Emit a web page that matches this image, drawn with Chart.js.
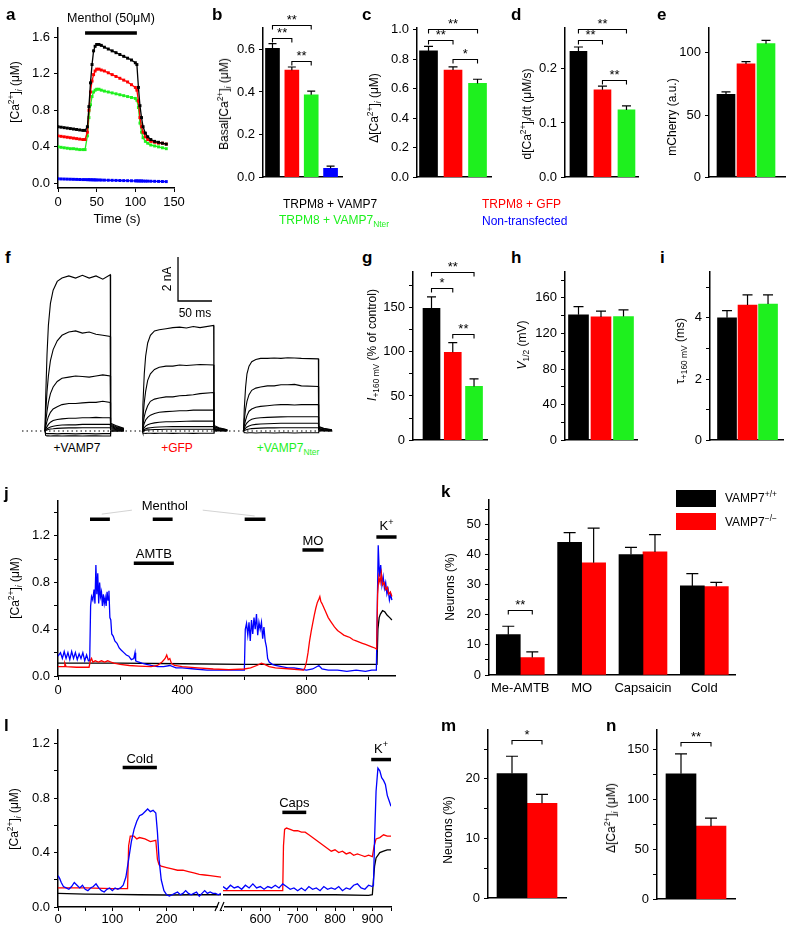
<!DOCTYPE html>
<html><head><meta charset="utf-8">
<script src="https://cdn.jsdelivr.net/npm/chart.js@4.4.1/dist/chart.umd.min.js"></script>
<style>
body{margin:0;background:#fff;}
#root{position:relative;width:788px;height:930px;overflow:hidden;font-family:'Liberation Sans',Arial,sans-serif;color:#000;background:#fff;}
canvas{position:absolute;}
.t{position:absolute;white-space:nowrap;line-height:1;}
sup,sub{font-size:70%;line-height:0;}
.sw{position:absolute;}
</style></head><body><div id="root"></div>
<script>
// ================= DATA =================
const groupColors = ['#000000', '#ff0000', '#1ef01e', '#0000ff'];
const groupNames = ['TRPM8 + VAMP7', 'TRPM8 + GFP', 'TRPM8 + VAMP7Nter', 'Non-transfected'];

// a: [Ca2+]i time course (s, µM)
const aTime  = [0,4,8,12,16,20,24,28,32,35,38,40,42,44,46,48,50,53,56,60,65,70,75,80,85,90,95,100,102,104,106,108,110,113,116,120,125,130,135,140];
const aVamp7 = [0.62,0.615,0.61,0.605,0.6,0.595,0.59,0.585,0.58,0.58,0.62,0.84,1.1,1.3,1.45,1.5,1.52,1.52,1.51,1.49,1.47,1.45,1.43,1.41,1.39,1.37,1.35,1.32,1.3,1.05,0.85,0.72,0.62,0.55,0.51,0.48,0.46,0.45,0.44,0.43];
const aGfp   = [0.52,0.515,0.51,0.505,0.5,0.495,0.49,0.485,0.48,0.48,0.56,0.8,1.0,1.12,1.19,1.23,1.25,1.25,1.24,1.23,1.21,1.19,1.17,1.15,1.13,1.11,1.08,1.05,1.02,0.9,0.72,0.62,0.56,0.51,0.48,0.46,0.45,0.44,0.44,0.43];
const aNter  = [0.4,0.395,0.39,0.385,0.38,0.38,0.375,0.37,0.37,0.37,0.52,0.72,0.86,0.95,1.0,1.02,1.03,1.03,1.02,1.01,1.0,0.99,0.98,0.97,0.96,0.95,0.94,0.93,0.91,0.83,0.66,0.56,0.5,0.46,0.44,0.42,0.41,0.4,0.39,0.38];
const aNonTr = [0.05,0.049,0.048,0.047,0.046,0.045,0.044,0.043,0.042,0.042,0.041,0.041,0.04,0.04,0.039,0.039,0.038,0.038,0.037,0.036,0.035,0.034,0.033,0.032,0.031,0.03,0.029,0.028,0.028,0.027,0.027,0.027,0.026,0.025,0.025,0.024,0.023,0.022,0.021,0.02];
const aMenthol = [35, 102];

// b-e
const bBasal = [0.605, 0.502, 0.387, 0.042];  const bErr = [0.022, 0.015, 0.017, 0.01];
const cDelta = [0.855, 0.725, 0.635];         const cErr = [0.03, 0.022, 0.028];
const dRate  = [0.232, 0.161, 0.124];         const dErr = [0.008, 0.007, 0.0075];
const eMcherry = [66.6, 91.1, 107.4];         const eErr = [2.0, 1.8, 2.6];

// f: whole-cell current traces (ms, nA)
const fOnset    = [0, 143, 292];
const fPulseEnd = [96, 105, 110];
const fRelTime  = [0,1,3,5,8,12,18,25,35,45,55,65,75,85];
const fTailTime = [0.5, 8, 20];
const fVamp7 = [
  [0,1.5,3.5,4.8,5.8,6.4,6.8,6.95,7.05,6.95,7.08,6.95,7.05,6.9,7.1],
  [0,0.8,1.8,2.5,3.2,3.7,4.1,4.35,4.5,4.55,4.45,4.5,4.4,4.35,4.3],
  [0,0.4,0.9,1.3,1.7,2.0,2.25,2.4,2.45,2.5,2.48,2.45,2.5,2.55,2.5],
  [0,0.2,0.45,0.65,0.85,1.0,1.1,1.2,1.25,1.25,1.28,1.3,1.3,1.35,1.3],
  [0,0.1,0.2,0.3,0.4,0.48,0.52,0.55,0.58,0.58,0.6,0.6,0.62,0.6,0.6],
  [0,0.05,0.1,0.14,0.18,0.22,0.25,0.27,0.28,0.28,0.3,0.3,0.3,0.3,0.3],
  [0,0.02,0.05,0.07,0.09,0.1,0.12,0.13,0.14,0.14,0.15,0.15,0.15,0.15,0.15],
  [0,-0.1,-0.12,-0.12,-0.12,-0.12,-0.13,-0.12,-0.12,-0.13,-0.12,-0.12,-0.13,-0.12,-0.12],
  [0,-0.2,-0.22,-0.22,-0.23,-0.22,-0.22,-0.23,-0.22,-0.22,-0.23,-0.22,-0.22,-0.23,-0.22]];
const fVamp7Tail = [[0.35,0.25,0.12],[0.3,0.2,0.1],[0.25,0.17,0.08],[0.2,0.13,0.06],[0.15,0.1,0.05],[0.1,0.07,0.03],[0.06,0.04,0.02],[0,0,0],[0,0,0]];
const fGfp = [
  [0,1.2,2.6,3.4,4.0,4.35,4.55,4.6,4.65,4.7,4.72,4.68,4.75,4.7,4.8],
  [0,0.6,1.3,1.8,2.3,2.6,2.8,2.9,2.95,2.95,3.0,2.98,3.0,3.02,3.0],
  [0,0.3,0.65,0.9,1.15,1.35,1.45,1.5,1.55,1.55,1.6,1.62,1.65,1.7,1.75],
  [0,0.15,0.35,0.5,0.62,0.72,0.8,0.85,0.88,0.9,0.92,0.92,0.95,0.95,0.95],
  [0,0.07,0.15,0.22,0.28,0.33,0.37,0.4,0.42,0.42,0.43,0.44,0.45,0.45,0.45],
  [0,0.03,0.07,0.1,0.13,0.15,0.17,0.18,0.19,0.2,0.2,0.2,0.2,0.2,0.2],
  [0,0.01,0.03,0.04,0.05,0.06,0.07,0.07,0.08,0.08,0.08,0.08,0.08,0.08,0.08],
  [0,-0.1,-0.1,-0.11,-0.1,-0.1,-0.11,-0.1,-0.1,-0.11,-0.1,-0.1,-0.11,-0.1,-0.1]];
const fGfpTail = [[0.25,0.15,0.06],[0.2,0.12,0.05],[0.17,0.1,0.04],[0.12,0.07,0.03],[0.08,0.05,0.02],[0.05,0.03,0.01],[0.03,0.02,0.01],[0,0,0]];
const fNter = [
  [0,1.0,2.0,2.6,2.95,3.15,3.25,3.3,3.3,3.32,3.3,3.33,3.32,3.3,3.28],
  [0,0.5,1.0,1.35,1.65,1.85,1.95,2.0,2.05,2.05,2.1,2.1,2.12,2.05,2.02],
  [0,0.25,0.5,0.7,0.9,1.0,1.08,1.12,1.15,1.18,1.2,1.2,1.18,1.2,1.2],
  [0,0.12,0.27,0.37,0.46,0.53,0.58,0.6,0.62,0.63,0.64,0.65,0.65,0.65,0.65],
  [0,0.06,0.13,0.18,0.23,0.27,0.3,0.32,0.33,0.34,0.35,0.35,0.35,0.35,0.35],
  [0,0.02,0.05,0.07,0.09,0.11,0.12,0.13,0.14,0.14,0.15,0.15,0.15,0.15,0.15],
  [0,-0.08,-0.08,-0.09,-0.08,-0.08,-0.09,-0.08,-0.08,-0.09,-0.08,-0.08,-0.09,-0.08,-0.08]];
const fNterTail = [[0.2,0.12,0.05],[0.17,0.1,0.04],[0.12,0.07,0.03],[0.09,0.05,0.02],[0.06,0.03,0.01],[0.03,0.02,0.01],[0,0,0]];

// g-i
const gCurrent = [149, 99.3, 60.8]; const gErr = [13, 11, 8.5];
const hV12     = [141, 138.5, 139]; const hErr = [9, 6.5, 7.4];
const iTau     = [4.0, 4.42, 4.45]; const iErr = [0.24, 0.33, 0.3];

// j: DRG neuron traces [time s, [Ca2+]i µM]
const jBlue = [[0,0.17],[8,0.2],[14,0.15],[20,0.21],[26,0.15],[32,0.2],[38,0.14],[44,0.21],[50,0.15],[56,0.2],[62,0.14],[68,0.19],[74,0.15],[80,0.2],[86,0.13],[92,0.18],[98,0.13],[102,0.13],[105,0.6],[108,0.68],[112,0.65],[116,0.74],[119,0.62],[122,0.95],[125,0.7],[128,0.88],[131,0.62],[134,0.8],[137,0.68],[140,0.72],[143,0.6],[146,0.7],[149,0.62],[152,0.67],[155,0.6],[158,0.72],[161,0.65],[164,0.73],[167,0.5],[170,0.48],[173,0.36],[178,0.34],[183,0.3],[190,0.28],[197,0.24],[204,0.22],[212,0.2],[220,0.18],[228,0.17],[236,0.14],[244,0.15],[248,0.2],[250,0.13],[258,0.12],[270,0.11],[285,0.1],[300,0.09],[320,0.08],[340,0.08],[360,0.09],[380,0.07],[400,0.07],[440,0.06],[480,0.05],[520,0.05],[560,0.05],[600,0.05],[603,0.4],[607,0.45],[611,0.35],[615,0.46],[619,0.3],[623,0.48],[627,0.36],[631,0.5],[635,0.4],[639,0.53],[643,0.35],[647,0.46],[651,0.4],[655,0.46],[659,0.32],[663,0.42],[667,0.3],[671,0.25],[675,0.15],[680,0.12],[690,0.1],[700,0.09],[720,0.08],[740,0.07],[760,0.07],[780,0.06],[800,0.05],[820,0.06],[840,0.09],[850,0.06],[870,0.05],[900,0.05],[930,0.04],[960,0.05],[990,0.04],[1010,0.05],[1025,0.05],[1028,0.6],[1031,1.12],[1035,0.85],[1039,0.95],[1043,0.78],[1047,0.85],[1051,0.75],[1055,0.8],[1059,0.7],[1063,0.74],[1067,0.65],[1071,0.7],[1075,0.65]];
const jRed = [[0,0.08],[20,0.08],[22,0.11],[26,0.08],[60,0.075],[100,0.075],[104,0.13],[108,0.15],[112,0.12],[120,0.13],[130,0.12],[140,0.13],[150,0.12],[160,0.13],[170,0.12],[180,0.11],[200,0.1],[230,0.09],[260,0.085],[300,0.08],[320,0.09],[335,0.12],[345,0.15],[350,0.18],[355,0.14],[360,0.15],[365,0.11],[375,0.09],[400,0.08],[450,0.07],[500,0.06],[550,0.055],[600,0.06],[620,0.07],[640,0.09],[655,0.11],[665,0.1],[680,0.08],[700,0.07],[750,0.06],[790,0.05],[795,0.07],[800,0.12],[805,0.2],[810,0.3],[815,0.38],[820,0.45],[825,0.52],[830,0.58],[835,0.63],[840,0.66],[843,0.68],[846,0.64],[850,0.62],[860,0.56],[870,0.5],[880,0.46],[890,0.42],[900,0.39],[910,0.37],[920,0.35],[930,0.34],[940,0.33],[950,0.31],[960,0.3],[970,0.29],[980,0.28],[990,0.27],[1000,0.26],[1010,0.25],[1020,0.24],[1026,0.23],[1029,0.7],[1033,0.85],[1037,0.8],[1041,0.88],[1045,0.78],[1050,0.8],[1055,0.74],[1060,0.76],[1065,0.7],[1070,0.72],[1075,0.68]];
const jBlack = [[0,0.11],[200,0.11],[400,0.105],[600,0.1],[800,0.1],[1000,0.1],[1027,0.1],[1030,0.4],[1034,0.5],[1038,0.53],[1045,0.56],[1052,0.55],[1060,0.52],[1068,0.5],[1075,0.48]];

// k
const kCategories = ['Me-AMTB', 'MO', 'Capsaicin', 'Cold'];
const kWT = [13.4, 44.1, 40.0, 29.6]; const kWTErr = [2.8, 3.2, 2.4, 4.1];
const kKO = [5.8, 37.3, 40.9, 29.4];  const kKOErr = [1.9, 11.5, 5.7, 1.4];

// l: two time windows of one recording [time s, µM]
const lBlueA = [[0,0.23],[3,0.21],[6,0.18],[10,0.15],[15,0.14],[20,0.13],[25,0.15],[30,0.18],[35,0.16],[40,0.14],[45,0.16],[50,0.13],[55,0.12],[60,0.14],[65,0.15],[70,0.17],[75,0.14],[80,0.12],[85,0.11],[90,0.13],[95,0.14],[100,0.12],[105,0.14],[110,0.13],[115,0.14],[120,0.16],[125,0.22],[130,0.35],[135,0.48],[140,0.57],[145,0.63],[150,0.67],[155,0.68],[160,0.7],[165,0.72],[170,0.7],[175,0.71],[180,0.69],[183,0.55],[186,0.35],[190,0.2],[195,0.12],[200,0.09],[205,0.08],[210,0.09],[215,0.1],[220,0.11],[225,0.09],[230,0.1],[235,0.12],[240,0.1],[245,0.09],[250,0.1],[255,0.11],[260,0.08],[265,0.1],[270,0.12],[275,0.1],[280,0.11],[285,0.1],[290,0.1],[295,0.09],[300,0.1]];
const lRedA = [[0,0.14],[50,0.14],[100,0.135],[128,0.135],[130,0.45],[133,0.52],[140,0.52],[145,0.5],[150,0.51],[160,0.5],[170,0.48],[180,0.49],[183,0.35],[186,0.31],[190,0.3],[200,0.29],[210,0.28],[220,0.27],[230,0.27],[240,0.26],[250,0.25],[260,0.24],[270,0.235],[280,0.23],[290,0.225],[300,0.22]];
const lBlackA = [[0,0.1],[50,0.095],[100,0.092],[150,0.09],[200,0.088],[250,0.09],[300,0.09]];
const lBlueB = [[500,0.15],[510,0.13],[520,0.16],[530,0.14],[540,0.15],[550,0.13],[560,0.16],[570,0.14],[580,0.17],[590,0.14],[600,0.15],[610,0.13],[620,0.15],[630,0.14],[640,0.16],[650,0.14],[660,0.17],[670,0.15],[680,0.13],[690,0.14],[700,0.12],[710,0.14],[720,0.12],[730,0.15],[740,0.13],[750,0.14],[760,0.12],[770,0.15],[780,0.13],[790,0.14],[800,0.13],[810,0.15],[820,0.12],[830,0.14],[840,0.13],[850,0.16],[860,0.17],[870,0.14],[880,0.13],[890,0.16],[900,0.15],[903,0.16],[906,0.5],[910,0.85],[915,1.02],[920,1.0],[925,0.95],[930,0.93],[935,0.9],[940,0.82],[945,0.78],[950,0.74]];
const lRedB = [[500,0.12],[550,0.12],[600,0.12],[650,0.12],[660,0.12],[662,0.45],[665,0.57],[670,0.58],[680,0.57],[690,0.56],[700,0.56],[710,0.55],[720,0.55],[730,0.53],[740,0.51],[750,0.49],[760,0.47],[770,0.45],[780,0.43],[790,0.41],[800,0.42],[810,0.4],[820,0.41],[830,0.39],[840,0.4],[850,0.38],[860,0.39],[870,0.38],[880,0.37],[890,0.38],[900,0.37],[905,0.45],[910,0.5],[920,0.51],[930,0.53],[940,0.52],[950,0.52]];
const lBlackB = [[500,0.09],[600,0.09],[700,0.09],[800,0.09],[890,0.085],[900,0.09],[903,0.2],[906,0.3],[910,0.36],[920,0.4],[930,0.41],[940,0.42],[950,0.42]];

// m, n
const mWT = [20.9]; const mWTErr = [2.9]; const mKO = [15.9]; const mKOErr = [1.5];
const nWT = [126];  const nWTErr = [20];  const nKO = [73.4]; const nKOErr = [8];

// ================= RENDERING =================
const FONT = "'Liberation Sans', Arial, sans-serif";
Chart.defaults.font.family = FONT;
Chart.defaults.font.size = 13;
Chart.defaults.color = '#000';
const root = document.getElementById('root');

function drawRich(ctx, parts, cx, by, size) {
  const fs = m => (m ? size * 0.7 : size);
  let w = 0;
  for (const [s, m] of parts) { ctx.font = fs(m) + 'px ' + FONT; w += ctx.measureText(s).width; }
  let x = cx - w / 2;
  ctx.textAlign = 'left'; ctx.textBaseline = 'alphabetic';
  for (const [s, m] of parts) {
    ctx.font = fs(m) + 'px ' + FONT;
    const dy = m === 1 ? -size * 0.42 : (m === 2 ? size * 0.22 : 0);
    ctx.fillText(s, x, by + dy);
    x += ctx.measureText(s).width;
  }
}

const deco = {
  id: 'deco',
  beforeDatasetsDraw(chart, a, o) {
    if (!o.zero) return;
    const ctx = chart.ctx, ca = chart.chartArea, y = chart.scales.y.getPixelForValue(0);
    ctx.save(); ctx.setLineDash([1.5, 3]); ctx.lineWidth = 1; ctx.strokeStyle = '#000';
    ctx.beginPath(); ctx.moveTo(ca.left, y); ctx.lineTo(ca.right, y); ctx.stroke(); ctx.restore();
  },
  afterDatasetsDraw(chart, a, o) {
    const ctx = chart.ctx, xs = chart.scales.x, ys = chart.scales.y;
    const X = v => xs.getPixelForValue(v), Y = v => ys.getPixelForValue(v);
    ctx.save(); ctx.strokeStyle = '#000'; ctx.fillStyle = '#000';
    (o.err || []).forEach((errs, d) => {
      const meta = chart.getDatasetMeta(d);
      meta.data.forEach((el, i) => {
        const yTop = Y(chart.data.datasets[d].data[i].y + errs[i]);
        ctx.lineWidth = 1.2; ctx.beginPath();
        ctx.moveTo(el.x, el.y); ctx.lineTo(el.x, yTop);
        ctx.moveTo(el.x - o.cap, yTop); ctx.lineTo(el.x + o.cap, yTop); ctx.stroke();
      });
    });
    (o.brackets || []).forEach(b => {
      const x1 = chart.getDatasetMeta(b.from[0]).data[b.from[1]].x;
      const x2 = chart.getDatasetMeta(b.to[0]).data[b.to[1]].x;
      const y = Math.round(Y(b.level)) + 0.5;
      ctx.lineWidth = 1.1; ctx.beginPath();
      ctx.moveTo(x1, y + 4); ctx.lineTo(x1, y); ctx.lineTo(x2, y); ctx.lineTo(x2, y + 4); ctx.stroke();
      ctx.font = '13px ' + FONT; ctx.textAlign = 'center'; ctx.textBaseline = 'alphabetic';
      ctx.fillText(b.label, (x1 + x2) / 2, y - 2);
    });
    (o.links || []).forEach(l => {
      ctx.strokeStyle = '#c8c8c8'; ctx.lineWidth = 0.8; ctx.beginPath();
      ctx.moveTo(X(l[0]), Y(l[1])); ctx.lineTo(X(l[2]), Y(l[3])); ctx.stroke();
      ctx.strokeStyle = '#000';
    });
    (o.stims || []).forEach(s => {
      const y = Y(s.level);
      ctx.lineWidth = 3.5; ctx.beginPath(); ctx.moveTo(X(s.t0), y); ctx.lineTo(X(s.t1), y); ctx.stroke();
      if (s.label) drawRich(ctx, s.label, (X(s.t0) + X(s.t1)) / 2, y - (s.gap || 5), s.size || 13);
    });
    (o.texts || []).forEach(t => drawRich(ctx, t.parts, X(t.t), Y(t.v), t.size || 13));
    if (o.scaleBar) {
      const s = o.scaleBar, x0 = X(s.t), y0 = Y(s.v);
      ctx.lineWidth = 1.3; ctx.beginPath();
      ctx.moveTo(x0, Y(s.v + s.dv)); ctx.lineTo(x0, y0); ctx.lineTo(X(s.t + s.dt), y0); ctx.stroke();
    }
    if (o.breakMark) {
      const x = chart.chartArea.left, y = chart.chartArea.bottom;
      ctx.fillStyle = '#fff'; ctx.fillRect(x - 5, y - 3, 6, 6);
      ctx.lineWidth = 1.2; ctx.beginPath();
      ctx.moveTo(x - 8, y + 4); ctx.lineTo(x - 4, y - 5);
      ctx.moveTo(x - 3, y + 4); ctx.lineTo(x + 1, y - 5); ctx.stroke();
    }
    ctx.restore();
  }
};

const isMult = (v, m) => Math.abs(v / m - Math.round(v / m)) < 1e-6;
function yAxis(min, max, step, major, dec) {
  return {
    type: 'linear', min, max, offset: false,
    border: {display: true, color: '#000', width: 1.5},
    grid: {display: true, drawOnChartArea: false, drawTicks: true, tickLength: 4, color: '#000', offset: false},
    ticks: {stepSize: step, autoSkip: false, includeBounds: false, padding: 4, color: '#000', font: {size: 13},
      callback: v => isMult(v, major) ? (dec ? v.toFixed(dec) : String(Math.round(v))) : ''}
  };
}
function xLin(min, max, step, major, labelFn, pad) {
  return {
    type: 'linear', min, max, offset: false,
    border: {display: true, color: '#000', width: 1.5},
    grid: {display: true, drawOnChartArea: false, drawTicks: true, tickLength: 4, color: '#000', offset: false},
    ticks: {stepSize: step, autoSkip: false, includeBounds: false, padding: pad == null ? 3 : pad, maxRotation: 0, color: '#000', font: {size: 13},
      callback: v => (isMult(v, major) && (!labelFn || labelFn(v))) ? String(Math.round(v)) : ''}
  };
}
function xBar(min, max) {
  return {type: 'linear', min, max, offset: false,
    border: {display: true, color: '#000', width: 1.5},
    grid: {display: false, drawTicks: false}, ticks: {display: false}};
}

function panel(box, m, cfg) {
  const [L, T, R, B] = box;
  const ml = m[0], mt = m[1], mr = m[2], mb = m[3];
  const c = document.createElement('canvas');
  const W = Math.round(R - L + ml + mr), H = Math.round(B - T + mt + mb);
  c.width = W; c.height = H;
  c.style.cssText = `left:${L - ml}px;top:${T - mt}px;width:${W}px;height:${H}px`;
  root.appendChild(c);
  const sc = cfg.options.scales;
  const yOn = sc.y.display !== false, xOn = sc.x.display !== false;
  cfg.options.layout = {padding: {left: yOn ? 0 : ml, top: mt, right: mr, bottom: xOn ? 0 : mb}};
  if (yOn) sc.y.afterFit = s => { s.width = ml; };
  if (xOn) sc.x.afterFit = s => { s.height = mb; };
  cfg.options.animation = false; cfg.options.responsive = false; cfg.options.events = [];
  cfg.options.devicePixelRatio = 1;
  cfg.options.plugins = Object.assign({legend: {display: false}, tooltip: {enabled: false}}, cfg.options.plugins || {});
  cfg.plugins = [deco];
  return new Chart(c, cfg);
}

const pts = (xs, ys) => xs.map((x, i) => ({x, y: ys[i]}));
const pairs = arr => arr.map(p => ({x: p[0], y: p[1]}));
const bars = (vals, colors, thick) => ({data: vals.map((v, i) => ({x: i + 1, y: v})), backgroundColor: colors, barThickness: thick, borderWidth: 0});
const line = (data, color, w) => ({data, borderColor: color, borderWidth: w || 1.3, pointRadius: 0, fill: false, tension: 0});

// ---- a ----
panel([58, 28, 174, 188], [50, 26, 14, 34], {
  type: 'line',
  data: {datasets: [aVamp7, aGfp, aNter, aNonTr].map((s, k) => ({
    data: pts(aTime, s), borderColor: groupColors[k], borderWidth: 1.3, pointStyle: 'rect', pointRadius: 2.1,
    pointBackgroundColor: groupColors[k], pointBorderWidth: 0, tension: 0}))},
  options: {scales: {x: xLin(0, 150, 50, 50), y: yAxis(-0.05, 1.7, 0.4, 0.4, 1)},
    plugins: {deco: {stims: [{t0: aMenthol[0], t1: aMenthol[1], level: 1.644, gap: 11, size: 12.5,
      label: [['Menthol (50μM)', 0]]}]}}}
});

// ---- b-e ----
const topM = [40, 26, 4, 4];
panel([263, 28, 342, 185], topM, {type: 'bar', data: {datasets: [bars(bBasal, groupColors.slice(0, 4), 14)]},
  options: {scales: {x: xBar(0.51, 4.59), y: yAxis(0, 0.7, 0.2, 0.2, 1)},
    plugins: {deco: {err: [bErr], cap: 4, brackets: [
      {from: [0, 0], to: [0, 2], level: 0.713, label: '**'},
      {from: [0, 0], to: [0, 1], level: 0.651, label: '**'},
      {from: [0, 1], to: [0, 2], level: 0.544, label: '**'}]}}}});
panel([417, 28, 491, 185], topM, {type: 'bar', data: {datasets: [bars(cDelta, groupColors.slice(0, 3), 18)]},
  options: {scales: {x: xBar(0.53, 3.55), y: yAxis(0, 1.01, 0.2, 0.2, 1)},
    plugins: {deco: {err: [cErr], cap: 4.5, brackets: [
      {from: [0, 0], to: [0, 2], level: 1.004, label: '**'},
      {from: [0, 0], to: [0, 1], level: 0.927, label: '**'},
      {from: [0, 1], to: [0, 2], level: 0.798, label: '*'}]}}}});
panel([565, 28, 638, 185], topM, {type: 'bar', data: {datasets: [bars(dRate, groupColors.slice(0, 3), 17)]},
  options: {scales: {x: xBar(0.44, 3.48), y: yAxis(0, 0.275, 0.1, 0.1, 1)},
    plugins: {deco: {err: [dErr], cap: 4.5, brackets: [
      {from: [0, 0], to: [0, 2], level: 0.273, label: '**'},
      {from: [0, 0], to: [0, 1], level: 0.252, label: '**'},
      {from: [0, 1], to: [0, 2], level: 0.179, label: '**'}]}}}});
panel([709, 28, 785, 185], [40, 26, 3, 4], {type: 'bar', data: {datasets: [bars(eMcherry, groupColors.slice(0, 3), 18)]},
  options: {scales: {x: xBar(0.15, 3.95), y: yAxis(0, 120, 50, 50, 0)},
    plugins: {deco: {err: [eErr], cap: 4.5}}}});

// ---- f ----
const fDatasets = [];
[[fVamp7, fVamp7Tail], [fGfp, fGfpTail], [fNter, fNterTail]].forEach(([traces, tails], g) => {
  const on = fOnset[g], end = fPulseEnd[g];
  traces.forEach((vals, k) => {
    const d = fRelTime.map((t, j) => ({x: on + t, y: vals[j]}));
    d.push({x: on + end, y: vals[fRelTime.length]});
    fTailTime.forEach((t, j) => d.push({x: on + end + t, y: tails[k][j]}));
    fDatasets.push(line(d, '#000', 1.1));
  });
});
panel([22, 250, 333, 440], [0, 0, 0, 0], {type: 'line', data: {datasets: fDatasets},
  options: {scales: {x: {type: 'linear', display: false, min: -33.8, max: 423.5}, y: {type: 'linear', display: false, min: -0.409, max: 8.227}},
    plugins: {deco: {zero: true, scaleBar: {t: 195.6, v: 5.91, dt: 50, dv: 2}}}}});

// ---- g-i ----
const midM = [40, 20, 4, 4];
panel([413, 272, 487, 448], midM, {type: 'bar', data: {datasets: [bars(gCurrent, groupColors.slice(0, 3), 17)]},
  options: {scales: {x: xBar(0.13, 3.61), y: yAxis(0, 190, 25, 50, 0)},
    plugins: {deco: {err: [gErr], cap: 4.5, brackets: [
      {from: [0, 0], to: [0, 2], level: 190, label: '**'},
      {from: [0, 0], to: [0, 1], level: 171.6, label: '*'},
      {from: [0, 1], to: [0, 2], level: 119.8, label: '**'}]}}}});
panel([565, 272, 637, 448], midM, {type: 'bar', data: {datasets: [bars(hV12, groupColors.slice(0, 3), 20)]},
  options: {scales: {x: xBar(0.4, 3.6), y: yAxis(0, 189, 20, 40, 0)},
    plugins: {deco: {err: [hErr], cap: 5}}}});
panel([710, 272, 783, 448], midM, {type: 'bar', data: {datasets: [bars(iTau, groupColors.slice(0, 3), 19)]},
  options: {scales: {x: xBar(0.17, 3.73), y: yAxis(0, 5.5, 1, 2, 0)},
    plugins: {deco: {err: [iErr], cap: 5}}}});

// ---- j ----
panel([58, 499, 395, 676], [50, 10, 14, 24], {type: 'line',
  data: {datasets: [line(pairs(jRed), '#ff0000'), line(pairs(jBlue), '#0000ff'), line(pairs(jBlack), '#000')]},
  options: {scales: {x: xLin(0, 1085, 200, 400), y: yAxis(0, 1.5, 0.2, 0.4, 1)},
    plugins: {deco: {
      stims: [{t0: 103, t1: 167, level: 1.342}, {t0: 305, t1: 369, level: 1.342}, {t0: 601, t1: 668, level: 1.342},
        {t0: 244, t1: 373, level: 0.966, label: [['AMTB', 0]]},
        {t0: 787, t1: 855, level: 1.079, label: [['MO', 0]]},
        {t0: 1025, t1: 1090, level: 1.19, gap: 7, label: [['K', 0], ['+', 1]]}],
      texts: [{t: 344, v: 1.42, parts: [['Menthol', 0]]}],
      links: [[141, 1.386, 238, 1.42], [466, 1.42, 633, 1.37]]}}}});

// ---- k ----
panel([489, 498, 735, 675], [40, 10, 10, 22], {type: 'bar',
  data: {datasets: [bars(kWT, '#000000', 24), bars(kKO, '#ff0000', 24)]},
  options: {scales: {
    x: {type: 'linear', min: 0.49, max: 4.5, offset: false, border: {display: true, color: '#000', width: 1.5},
      grid: {display: false, drawTicks: false},
      ticks: {stepSize: 1, autoSkip: false, includeBounds: false, padding: 6, maxRotation: 0, color: '#000', font: {size: 13},
        callback: v => isMult(v, 1) ? (kCategories[Math.round(v) - 1] || '') : ''}},
    y: yAxis(0, 58.2, 5, 10, 0)},
    plugins: {deco: {err: [kWTErr, kKOErr], cap: 6,
      brackets: [{from: [0, 0], to: [1, 0], level: 21.7, label: '**'}]}}}});

// ---- l ----
panel([58, 730, 221, 907], [50, 12, 2, 22], {type: 'line',
  data: {datasets: [line(pairs(lBlueA), '#0000ff'), line(pairs(lRedA), '#ff0000'), line(pairs(lBlackA), '#000')]},
  options: {scales: {x: xLin(0, 300, 50, 100, v => v < 300, 1), y: yAxis(0, 1.3, 0.2, 0.4, 1)},
    plugins: {deco: {stims: [{t0: 119, t1: 182, level: 1.024, label: [['Cold', 0]]}]}}}});
panel([223, 730, 391, 907], [10, 12, 14, 22], {type: 'line',
  data: {datasets: [line(pairs(lBlueB), '#0000ff'), line(pairs(lRedB), '#ff0000'), line(pairs(lBlackB), '#000')]},
  options: {scales: {x: xLin(500, 950, 50, 100, v => v >= 600, 1), y: {type: 'linear', display: false, min: 0, max: 1.3}},
    plugins: {deco: {breakMark: true,
      stims: [{t0: 659, t1: 723, level: 0.695, label: [['Caps', 0]]},
              {t0: 897, t1: 950, level: 1.083, gap: 7, label: [['K', 0], ['+', 1]]}]}}}});

// ---- m, n ----
panel([488, 730, 566, 906], [40, 14, 4, 4], {type: 'bar',
  data: {datasets: [bars(mWT, '#000000', 30), bars(mKO, '#ff0000', 30)]},
  options: {scales: {x: xBar(0, 2), y: yAxis(0, 28.2, 5, 10, 0)},
    plugins: {deco: {err: [mWTErr, mKOErr], cap: 6, brackets: [{from: [0, 0], to: [1, 0], level: 26.6, label: '*'}]}}}});
panel([657, 730, 735, 907], [40, 14, 4, 4], {type: 'bar',
  data: {datasets: [bars(nWT, '#000000', 30), bars(nKO, '#ff0000', 30)]},
  options: {scales: {x: xBar(0, 2), y: yAxis(0, 170, 25, 50, 0)},
    plugins: {deco: {err: [nWTErr, nKOErr], cap: 6, brackets: [{from: [0, 0], to: [1, 0], level: 157.7, label: '**'}]}}}});

// ================= TEXT =================
function txt(html, x, y, o) {
  o = o || {};
  const d = document.createElement('div'); d.className = 't'; d.innerHTML = html;
  const tr = o.rot ? 'translate(-50%,-50%) rotate(-90deg)' : (o.left ? 'translate(0,-50%)' : 'translate(-50%,-50%)');
  d.style.cssText = `left:${x}px;top:${y}px;transform:${tr};font-size:${o.size || 12}px;color:${o.color || '#000'};` + (o.bold ? 'font-weight:bold;' : '');
  root.appendChild(d);
}
const CA = '[Ca<sup>2+</sup>]<sub><i>i</i></sub>';
// panel letters
[['a', 6, 14], ['b', 212, 14], ['c', 362, 14], ['d', 511, 14], ['e', 657, 14], ['f', 5, 257], ['g', 362, 257], ['h', 511, 257],
 ['i', 660, 257], ['j', 4, 493], ['k', 441, 491], ['l', 4, 725], ['m', 441, 725], ['n', 606, 725]]
  .forEach(([s, x, y]) => txt(s, x, y, {left: true, bold: true, size: 17}));
// axis titles
txt(CA + ' (μM)', 15, 92, {rot: true});
txt('Time (s)', 117, 218, {size: 13});
txt('Basal' + CA + ' (μM)', 224, 104, {rot: true});
txt('Δ' + CA + ' (μM)', 374, 108, {rot: true});
txt('d' + CA + '/dt (μM/s)', 527, 114, {rot: true});
txt('mCherry (a.u.)', 672, 117, {rot: true});
txt('<i>I</i><sub>+160 mV</sub> (% of control)', 372, 345, {rot: true});
txt('<i>V</i><sub>1/2</sub> (mV)', 522, 345, {rot: true});
txt('τ<sub>+160 mV</sub> (ms)', 680, 351, {rot: true});
txt(CA + ' (μM)', 15, 588, {rot: true});
txt('Neurons (%)', 450, 587, {rot: true});
txt(CA + ' (μM)', 14, 819, {rot: true});
txt('Neurons (%)', 448, 830, {rot: true});
txt('Δ' + CA + ' (μM)', 611, 818, {rot: true});
// legend b-e
txt(groupNames[0], 283, 204, {left: true, color: groupColors[0]});
txt('TRPM8 + VAMP7<sub>Nter</sub>', 279, 220, {left: true, color: groupColors[2]});
txt(groupNames[1], 482, 204, {left: true, color: groupColors[1]});
txt(groupNames[3], 482, 221, {left: true, color: groupColors[3]});
// f labels
txt('+VAMP7', 77, 448, {size: 12});
txt('+GFP', 177, 448, {size: 12, color: groupColors[1]});
txt('+VAMP7<sub>Nter</sub>', 288, 448, {size: 12, color: groupColors[2]});
txt('2 nA', 167, 279, {rot: true, size: 12});
txt('50 ms', 195, 313, {size: 12});
// k legend
[['#000000', 490, 'VAMP7<sup>+/+</sup>', 498], ['#ff0000', 513, 'VAMP7<sup>−/−</sup>', 522]].forEach(([col, y, lab, ty]) => {
  const s = document.createElement('div'); s.className = 'sw';
  s.style.cssText = `left:676px;top:${y}px;width:40px;height:17px;background:${col}`;
  root.appendChild(s);
  txt(lab, 725, ty, {left: true, size: 12});
});
</script></body></html>
